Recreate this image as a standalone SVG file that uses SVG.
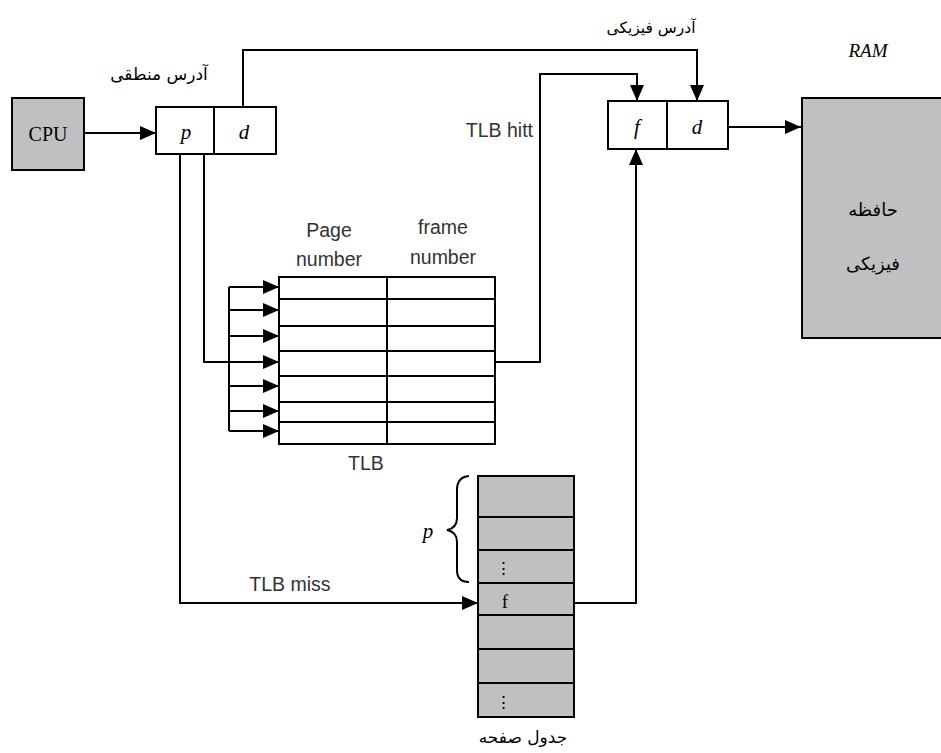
<svg xmlns="http://www.w3.org/2000/svg" width="941" height="753" viewBox="0 0 941 753">
<style>
.box{fill:#fff;stroke:#000;stroke-width:2}
.gray{fill:#c0c0c0;stroke:#000;stroke-width:2}
.ln{fill:none;stroke:#000;stroke-width:2}
.arr{fill:none;stroke:#000;stroke-width:2;marker-end:url(#ah)}
.serif{font-family:"Liberation Serif","Times New Roman",serif;fill:#000}
.it{font-family:"Liberation Serif","Times New Roman",serif;font-style:italic;fill:#000}
.sans{font-family:"Liberation Sans",Arial,sans-serif;fill:#333;font-size:19.5px}
.fa{font-family:"DejaVu Sans","Noto Sans",sans-serif;fill:#000}
</style>
<defs>
<marker id="ah" markerUnits="userSpaceOnUse" markerWidth="16" markerHeight="14" refX="16" refY="7" orient="auto">
<path d="M0,0 L16,7 L0,14 z" fill="#000"/>
</marker>
</defs>
<rect width="941" height="753" fill="#fff"/>

<g id="connectors">
<path class="arr" d="M84,133 H156"/>
<path class="arr" d="M243,107 V50 H697 V101"/>
<path class="ln" d="M204,154 V362 H229"/>
<path class="ln" d="M229,287 V431"/>
<path class="arr" d="M229,287 H279"/>
<path class="arr" d="M229,310 H279"/>
<path class="arr" d="M229,336 H279"/>
<path class="arr" d="M229,362 H279"/>
<path class="arr" d="M229,386 H279"/>
<path class="arr" d="M229,411 H279"/>
<path class="arr" d="M229,431 H279"/>
<path class="arr" d="M495,362 H540 V74 H637 V101"/>
<path class="arr" d="M180,154 V603 H478"/>
<path class="arr" d="M574,603 H636 V149"/>
<path class="arr" d="M728,127 H801"/>
</g>

<g id="cpu">
<rect class="gray" x="12" y="98" width="72" height="72"/>
<text class="serif" x="48" y="141" font-size="20" text-anchor="middle">CPU</text>
</g>

<g id="logical-address">
<rect class="box" x="156" y="107" width="120" height="47"/>
<line class="ln" x1="214" y1="107" x2="214" y2="154"/>
<text class="it" x="186" y="139" font-size="21" text-anchor="middle">p</text>
<text class="it" x="244" y="139" font-size="21" text-anchor="middle">d</text>
<text class="fa" x="159" y="80" font-size="17" text-anchor="middle">آدرس منطقی</text>
</g>

<g id="physical-address">
<rect class="box" x="608" y="101" width="120" height="48"/>
<line class="ln" x1="667" y1="101" x2="667" y2="149"/>
<text class="it" x="637" y="134" font-size="21" text-anchor="middle">f</text>
<text class="it" x="697" y="134" font-size="21" text-anchor="middle">d</text>
<text class="fa" x="651" y="33" font-size="15.5" text-anchor="middle">آدرس فیزیکی</text>
</g>

<g id="ram">
<rect class="gray" x="802" y="98" width="145" height="240"/>
<text class="it" x="868" y="57" font-size="19" text-anchor="middle">RAM</text>
<text class="fa" x="873" y="216" font-size="18" text-anchor="middle">حافظه</text>
<text class="fa" x="873" y="270" font-size="18" text-anchor="middle">فیزیکی</text>
</g>

<g id="tlb">
<rect class="box" x="279" y="277" width="216" height="167"/>
<line class="ln" x1="387" y1="277" x2="387" y2="444"/>
<path class="ln" d="M279,299 H495 M279,326 H495 M279,351 H495 M279,376 H495 M279,402 H495 M279,422 H495"/>
<text class="sans" x="329" y="237" text-anchor="middle">Page</text>
<text class="sans" x="329" y="266" text-anchor="middle">number</text>
<text class="sans" x="443" y="234" text-anchor="middle">frame</text>
<text class="sans" x="443" y="264" text-anchor="middle">number</text>
<text class="sans" x="366" y="470" text-anchor="middle">TLB</text>
</g>

<g id="labels">
<text class="sans" x="533" y="137" text-anchor="end">TLB hitt</text>
<text class="sans" x="290" y="591" text-anchor="middle">TLB miss</text>
</g>

<g id="page-table">
<rect class="gray" x="478" y="476" width="96" height="241"/>
<path class="ln" d="M478,517 H574 M478,550 H574 M478,583 H574 M478,615 H574 M478,649 H574 M478,683 H574"/>
<text class="serif" x="503" y="574" font-size="17" text-anchor="middle">⋮</text>
<text class="serif" x="505" y="608" font-size="19" text-anchor="middle">f</text>
<text class="serif" x="503" y="708" font-size="17" text-anchor="middle">⋮</text>
<path class="ln" d="M469,476 Q457,477 457,490 V518 Q457,528 447,530 Q457,532 457,542 V570 Q457,582 469,582"/>
<text class="it" x="428" y="538" font-size="21" text-anchor="middle">p</text>
<text class="fa" x="523" y="743" font-size="17" text-anchor="middle">جدول صفحه</text>
</g>
</svg>
